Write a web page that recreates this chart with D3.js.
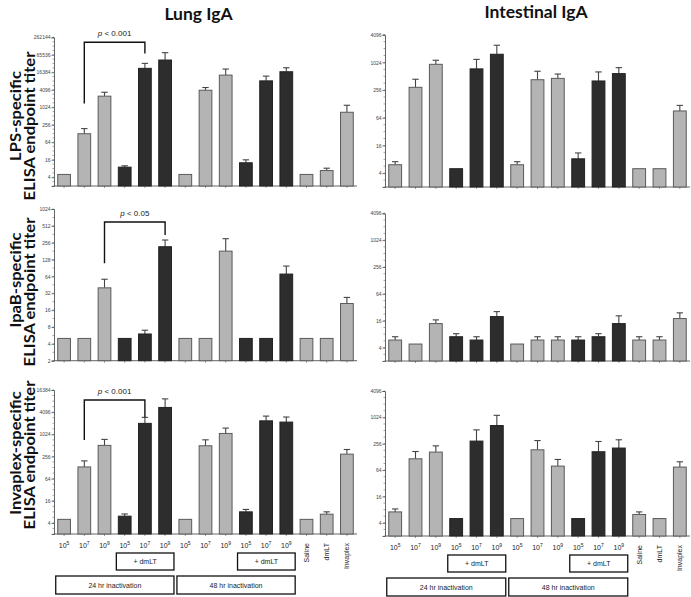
<!DOCTYPE html>
<html><head><meta charset="utf-8">
<script src="https://cdn.jsdelivr.net/npm/d3@7"></script>
<style>body{margin:0;background:#fff}svg{display:block}</style>
</head><body><svg id="c" width="691" height="597"></svg>
<script>
// ---------- data ----------
const categories = ["24h-1e5","24h-1e7","24h-1e9","24hLT-1e5","24hLT-1e7","24hLT-1e9",
  "48h-1e5","48h-1e7","48h-1e9","48hLT-1e5","48hLT-1e7","48hLT-1e9","Saline","dmLT","Invaplex"];
const exponents = ["5","7","9","5","7","9","5","7","9","5","7","9"];
const rotatedLabels = ["Saline","dmLT","Invaplex"];
const darkBars = ["24hLT-1e5","24hLT-1e7","24hLT-1e9","48hLT-1e5","48hLT-1e7","48hLT-1e9"];
const columnTitles = ["Lung IgA","Intestinal IgA"];
const rowTitles = ["LPS-specific","IpaB-specific","Invaplex-specific"];

const lungLPS      = [5,126,2470,8.9,22400,43300,5,3950,13100,12.6,8300,17100,5,6.8,690];
const lungLPSErr   = [null,189,3370,9.9,33200,77500,null,4900,21200,15.9,12100,23500,null,8.2,1200];
const intLPS       = [6.1,294,930,5,740,1540,6.1,430,460,8.2,404,584,5,5,90];
const intLPSErr    = [7.1,440,1140,null,1190,2420,7.1,657,572,11,635,787,null,null,119];
const lungIpaB     = [5,5,40,5,6,217,5,5,181,5,5,70.5,5,5,21];
const lungIpaBErr  = [null,null,57,null,7,286,null,null,302,null,null,98,null,null,27];
const intIpaB      = [5.9,4.8,13.8,7,5.9,19.8,4.8,5.9,5.9,5.9,7,13.8,5.9,5.9,17.9];
const intIpaBErr   = [7,null,16.7,8.2,7,25.6,null,7,7,7,8.2,20.6,7,7,24];
const lungInv      = [5,133,512,6.1,2030,5500,5,500,1080,8,2380,2200,5,6.9,296];
const lungInvErr   = [null,194,745,7,2960,9400,null,725,1510,9.3,3200,3020,null,8,396];
const intInv       = [7.1,116,165,5,294,666,5,186,79,5,168,204,6.2,5,75];
const intInvErr    = [8.3,170,229,null,530,1140,null,302,112,null,288,315,7.1,null,99];

const lungTicksLPS  = [4,16,64,256,1024,4096,16384,65536,262144];
const lungTicksIpaB = [2,4,8,16,32,64,128,256,512,1024];
const lungTicksInv  = [4,16,64,256,1024,4096,16384];
const intTicks      = [4,16,64,256,1024,4096];

const pLabels = ["0.001","0.05","0.001"];
const pBrackets = [["24h-1e7","24hLT-1e7"],["24h-1e9","24hLT-1e9"],["24h-1e7","24hLT-1e7"]];

// ---------- layout ----------
const svg = d3.select("#c");
const LIGHT = "#b4b4b4", DARK = "#2d2d2d", STROKE = "#5a5a5a";

const panels = [
  {col:0,row:0,vals:lungLPS,err:lungLPSErr,ticks:lungTicksLPS,dom:[2,262144],yr:[186,37.3]},
  {col:1,row:0,vals:intLPS,err:intLPSErr,ticks:intTicks,dom:[2,4096],yr:[187,34.7]},
  {col:0,row:1,vals:lungIpaB,err:lungIpaBErr,ticks:lungTicksIpaB,dom:[2,1024],yr:[360.7,209]},
  {col:1,row:1,vals:intIpaB,err:intIpaBErr,ticks:intTicks,dom:[2,4096],yr:[361,213.3]},
  {col:0,row:2,vals:lungInv,err:lungInvErr,ticks:lungTicksInv,dom:[2,16384],yr:[534,390]},
  {col:1,row:2,vals:intInv,err:intInvErr,ticks:intTicks,dom:[2,4096],yr:[536,391]}
];
const xRanges = [[54,357],[385,690]];
const legLeft = [25,16,21], legRight = [10,5,0];

panels.forEach(p => {
  const x = d3.scaleBand().domain(categories).range(xRanges[p.col]).paddingInner(0.32).paddingOuter(0.16);
  const y = d3.scaleLog().base(2).domain(p.dom).range(p.yr);
  const g = svg.append("g");
  const base = y(p.dom[0]);

  // minor ticks
  const minor = [];
  const l0 = Math.log2(p.dom[0]), l1 = Math.log2(p.dom[1]);
  for (let k = l0; k <= l1 + 1e-9; k += 0.5) minor.push(Math.pow(2,k));
  g.selectAll("line.minor").data(minor).join("line")
    .attr("x1", xRanges[p.col][0]-1.5).attr("x2", xRanges[p.col][0])
    .attr("y1", d=>y(d)).attr("y2", d=>y(d)).attr("stroke","#666").attr("stroke-width",0.6);

  // y axis
  const ya = d3.axisLeft(y).tickValues(p.ticks).tickFormat(d3.format("d")).tickSize(2.5).tickPadding(1);
  const yg = g.append("g").attr("transform",`translate(${xRanges[p.col][0]},0)`).call(ya);
  yg.select(".domain").attr("stroke","#555").attr("stroke-width",0.9);
  yg.selectAll(".tick line").attr("stroke","#555").attr("stroke-width",0.8);
  yg.selectAll(".tick text").attr("font-family","Liberation Sans, Arial, sans-serif").attr("font-size",5).attr("fill","#444");

  // x axis
  const xa = d3.axisBottom(x).tickSize(2).tickFormat("");
  const xg = g.append("g").attr("transform",`translate(0,${base})`).call(xa);
  xg.select(".domain").attr("stroke","#555").attr("stroke-width",0.9).attr("d",`M${xRanges[p.col][0]},0H${xRanges[p.col][1]}`);
  xg.selectAll(".tick line").attr("stroke","#555").attr("stroke-width",0.6);

  const data = categories.map((c,i)=>({c, v:p.vals[i], e:p.err[i]}));
  // error bars
  const eb = data.filter(d=>d.e!=null);
  g.selectAll("line.err").data(eb).join("line")
    .attr("x1",d=>x(d.c)+x.bandwidth()/2).attr("x2",d=>x(d.c)+x.bandwidth()/2)
    .attr("y1",d=>y(d.v)).attr("y2",d=>y(d.e)).attr("stroke","#444").attr("stroke-width",1.1);
  g.selectAll("line.cap").data(eb).join("line")
    .attr("x1",d=>x(d.c)+x.bandwidth()/2-3.2).attr("x2",d=>x(d.c)+x.bandwidth()/2+3.2)
    .attr("y1",d=>y(d.e)).attr("y2",d=>y(d.e)).attr("stroke","#444").attr("stroke-width",1.1);
  // bars
  g.selectAll("rect.bar").data(data).join("rect")
    .attr("x",d=>x(d.c)+0.5).attr("width",x.bandwidth()-1)
    .attr("y",d=>y(d.v)).attr("height",d=>base-y(d.v))
    .attr("fill",d=>darkBars.includes(d.c)?DARK:LIGHT)
    .attr("stroke",d=>darkBars.includes(d.c)?"#222":STROKE).attr("stroke-width",1);

  // significance brackets (lung column)
  if (p.col === 0) {
    const [a,b] = pBrackets[p.row];
    const xa1 = x(a)+x.bandwidth()/2, xb1 = x(b)+x.bandwidth()/2;
    const top = p.yr[1] + [5,13,10][p.row];
    const ia = categories.indexOf(a), ib = categories.indexOf(b);
    const la = y(p.err[ia]) - legLeft[p.row], lb = y(p.err[ib]) - legRight[p.row];
    g.append("path").attr("d",`M${xa1},${la}V${top}H${xb1}V${lb}`)
      .attr("fill","none").attr("stroke","#111").attr("stroke-width",1.4);
    const t = g.append("text").attr("x",(xa1+xb1)/2).attr("y",top-6)
      .attr("text-anchor","middle").attr("font-family","Liberation Sans, Arial, sans-serif")
      .attr("font-size",8).attr("fill","#222");
    t.append("tspan").attr("font-style","italic").text("p");
    t.append("tspan").text(" < " + pLabels[p.row]);
  }

  // bottom labels for last row
  if (p.row === 2) {
    const font = "Liberation Sans, Arial, sans-serif";
    exponents.forEach((ex,i) => {
      const cx = x(categories[i]) + x.bandwidth()/2;
      const t = g.append("text").attr("x",cx).attr("y",base+13.5).attr("text-anchor","middle")
        .attr("font-family",font).attr("font-size",7).attr("fill","#222");
      t.append("tspan").text("10");
      t.append("tspan").attr("dy",-2.5).attr("font-size",5).text(ex);
    });
    rotatedLabels.forEach((lab,j) => {
      const cx = x(categories[12+j]) + x.bandwidth()/2;
      g.append("text").attr("transform",`translate(${cx+2.5},${base+9}) rotate(-90)`)
        .attr("text-anchor","end").attr("font-family",font).attr("font-size",7).attr("fill","#222").text(lab);
    });
    const box = (c0,c1,y0,y1,label) => {
      const x0 = x(c0)-1.5, x1 = x(c1)+x.bandwidth()+2;
      g.append("rect").attr("x",x0).attr("y",y0).attr("width",x1-x0).attr("height",y1-y0)
        .attr("fill","#fff").attr("stroke","#111").attr("stroke-width",1.3);
      g.append("text").attr("x",(x0+x1)/2).attr("y",(y0+y1)/2+2.5).attr("text-anchor","middle")
        .attr("font-family",font).attr("font-size",7).attr("fill","#222").text(label);
    };
    box("24hLT-1e5","24hLT-1e9",base+19,base+36,"+ dmLT");
    box("48hLT-1e5","48hLT-1e9",base+19,base+36,"+ dmLT");
    box("24h-1e5","24hLT-1e9",base+42,base+60,"24 hr inactivation");
    box("48h-1e5","48hLT-1e9",base+42,base+60,"48 hr inactivation");
  }
});

// column titles
const titleFont = "Lato, 'Open Sans', sans-serif";
svg.append("text").attr("x",198.5).attr("y",20).attr("text-anchor","middle")
  .attr("font-family",titleFont).attr("font-weight","bold").attr("font-size",17.5).attr("fill","#111").text(columnTitles[0]);
svg.append("text").attr("x",536).attr("y",18).attr("text-anchor","middle")
  .attr("font-family",titleFont).attr("font-weight","bold").attr("font-size",17.5).attr("fill","#111").text(columnTitles[1]);

// row titles
const rowCenters = [[116,126],[280,292],[453,455]];
rowTitles.forEach((t,i) => {
  svg.append("text").attr("transform",`translate(21,${rowCenters[i][0]}) rotate(-90) scale(1.12,1)`)
    .attr("text-anchor","middle").attr("font-family",titleFont).attr("font-weight","bold")
    .attr("font-size",14.8).attr("fill","#111").text(t);
  svg.append("text").attr("transform",`translate(35,${rowCenters[i][1]}) rotate(-90) scale(1.12,1)`)
    .attr("text-anchor","middle").attr("font-family",titleFont).attr("font-weight","bold")
    .attr("font-size",14.8).attr("fill","#111").text("ELISA endpoint titer");
});
</script></body></html>
